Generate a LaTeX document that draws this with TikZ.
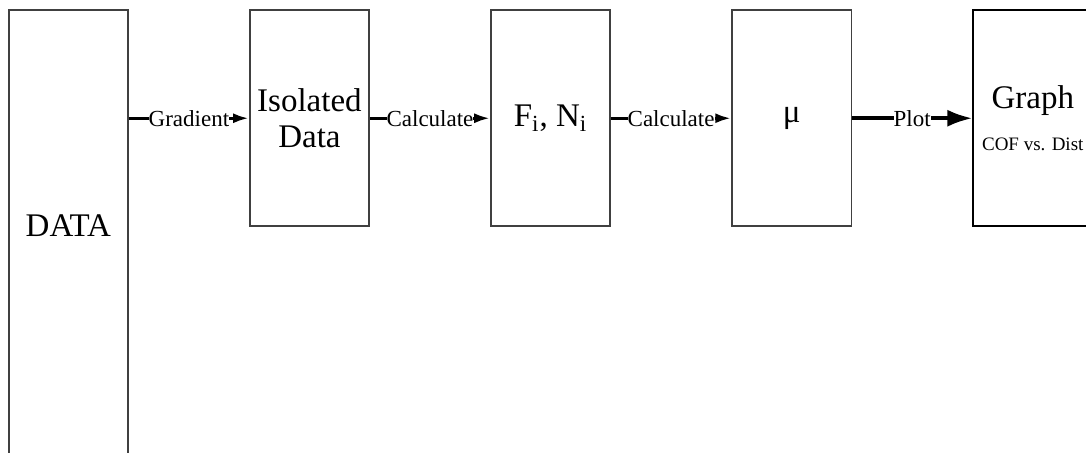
\documentclass[tikz,border=0pt]{standalone}
\usepackage{fontspec}
\setmainfont{Liberation Serif}
\usetikzlibrary{positioning, arrows.meta}

\begin{document}
\begin{tikzpicture}[x=0.5pt, y=-0.5pt, node distance=60.2pt,
    stage/.style={draw=black!75, line width=0.75pt, minimum width=59.6pt,
        minimum height=108pt, inner sep=0pt, align=center,
        font=\fontsize{16.5}{18}\selectfont},
    flow/.style={-{Latex[length=8pt,width=5pt]}, line width=1.6pt},
    lbl/.style={fill=white, inner sep=0pt, font=\fontsize{11.5}{13}\selectfont}]

    \path[use as bounding box, clip] (0,0) rectangle (1086,453);

    \node[stage, minimum height=225pt, text depth=10pt, anchor=north west] (data) at (8,9.5) {DATA};
    \node[stage, right=of data.north east, anchor=north west] (iso) {Isolated\\Data};
    \node[stage, right=of iso] (force) {F\textsubscript{i}, N\textsubscript{i}};
    \node[stage, right=of force] (coef) {μ};
    \node[stage, right=of coef, draw=black] (graph) {Graph\\[3pt]{\fontsize{9.5}{12}\selectfont COF vs. Dist}};

    \draw[flow] (data.east |- iso.west) -- node[lbl] {Gradient} (iso.west);
    \draw[flow] (iso) -- node[lbl] {Calculate} (force);
    \draw[flow] (force) -- node[lbl] {Calculate} (coef);
    \draw[flow, -{Latex[length=12.5pt,width=8.5pt]}, line width=1.8pt] (coef) -- node[lbl] {Plot} (graph);

\end{tikzpicture}
\end{document}
